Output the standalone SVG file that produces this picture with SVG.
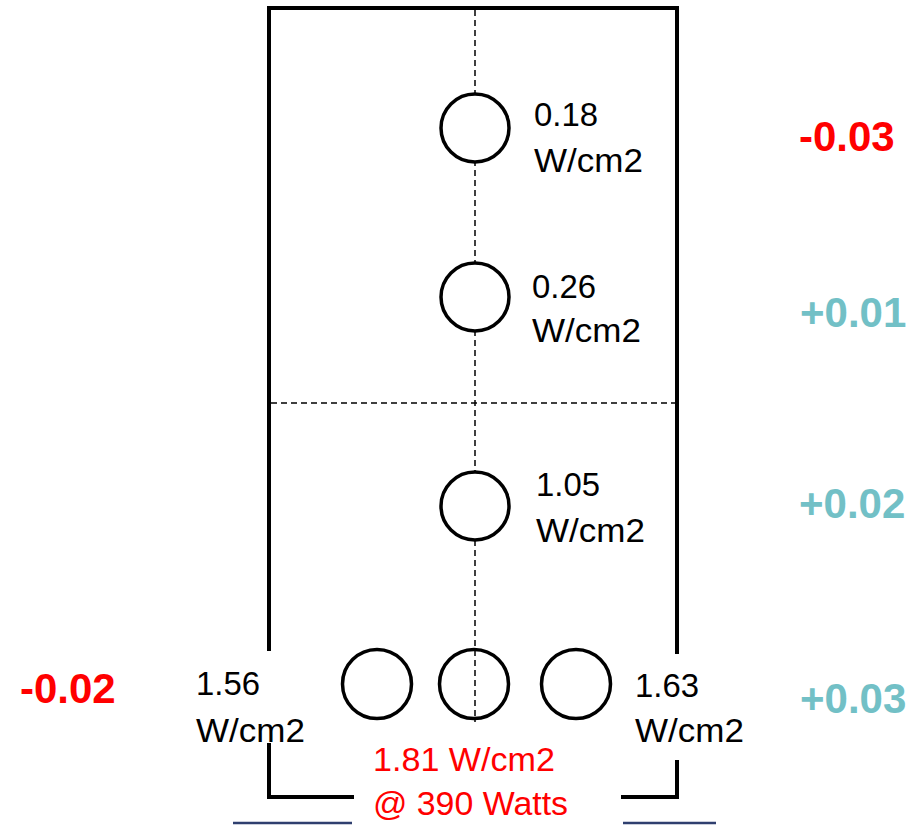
<svg xmlns="http://www.w3.org/2000/svg" width="920" height="826" viewBox="0 0 920 826">
  <style>
    .wall { fill: none; stroke: #000; stroke-width: 4; stroke-linecap: square; }
    .guide { fill: none; stroke: #000; stroke-width: 1.5; stroke-dasharray: 6 4; }
    .hole { fill: #fff; stroke: #000; stroke-width: 3.5; }
    .open { fill: none; }
    .lbl { font-family: "Liberation Sans", Arial, sans-serif; font-size: 33px; fill: #000; }
    .red { fill: #ff0000; }
    .delta { font-family: "Liberation Sans", Arial, sans-serif; font-size: 42px; font-weight: bold; }
    .neg { fill: #ff0000; }
    .pos { fill: #72c0c6; }
    .base { stroke: #2f3f6f; stroke-width: 2.5; }
  </style>
  <rect width="920" height="826" fill="#fff"/>

  <!-- enclosure outline with openings -->
  <g id="enclosure">
    <path class="wall" d="M269,649 V8 H677 V652"/>
    <path class="wall" d="M269,745 V797 H352"/>
    <path class="wall" d="M677,762 V797 H623"/>
    <line class="base" x1="233" y1="823" x2="352" y2="823"/>
    <line class="base" x1="623" y1="823" x2="716" y2="823"/>
  </g>

  <!-- centre guides -->
  <g id="connectors">
    <line class="guide" x1="475" y1="10" x2="475" y2="722"/>
    <line class="guide" x1="271" y1="403" x2="675" y2="403"/>
  </g>

  <g id="hole-1">
    <circle class="hole" cx="475" cy="128" r="34"/>
    <text class="lbl" x="534" y="126" textLength="64" lengthAdjust="spacingAndGlyphs">0.18</text>
    <text class="lbl" x="534" y="172" textLength="109" lengthAdjust="spacingAndGlyphs">W/cm2</text>
  </g>
  <g id="hole-2">
    <circle class="hole" cx="475" cy="297" r="34"/>
    <text class="lbl" x="532" y="298" textLength="64" lengthAdjust="spacingAndGlyphs">0.26</text>
    <text class="lbl" x="532" y="342" textLength="109" lengthAdjust="spacingAndGlyphs">W/cm2</text>
  </g>
  <g id="hole-3">
    <circle class="hole" cx="475" cy="506" r="34"/>
    <text class="lbl" x="536" y="496" textLength="64" lengthAdjust="spacingAndGlyphs">1.05</text>
    <text class="lbl" x="536" y="542" textLength="109" lengthAdjust="spacingAndGlyphs">W/cm2</text>
  </g>
  <g id="hole-left">
    <circle class="hole" cx="377" cy="684" r="34.5"/>
    <text class="lbl" x="196" y="695" textLength="64" lengthAdjust="spacingAndGlyphs">1.56</text>
    <text class="lbl" x="196" y="742" textLength="109" lengthAdjust="spacingAndGlyphs">W/cm2</text>
  </g>
  <g id="hole-centre">
    <circle class="hole open" cx="474" cy="684" r="34.5"/>
    <text class="lbl red" x="373" y="771" textLength="182" lengthAdjust="spacingAndGlyphs">1.81 W/cm2</text>
    <text class="lbl red" x="373" y="815" textLength="195" lengthAdjust="spacingAndGlyphs">@ 390 Watts</text>
  </g>
  <g id="hole-right">
    <circle class="hole" cx="576" cy="684" r="34.5"/>
    <text class="lbl" x="635" y="697" textLength="64" lengthAdjust="spacingAndGlyphs">1.63</text>
    <text class="lbl" x="635" y="742" textLength="109" lengthAdjust="spacingAndGlyphs">W/cm2</text>
  </g>

  <!-- deltas -->
  <g id="deltas">
    <text class="delta neg" x="799" y="151">-0.03</text>
    <text class="delta pos" x="800" y="327">+0.01</text>
    <text class="delta pos" x="799" y="518">+0.02</text>
    <text class="delta pos" x="800" y="713">+0.03</text>
    <text class="delta neg" x="20" y="703">-0.02</text>
  </g>
</svg>
